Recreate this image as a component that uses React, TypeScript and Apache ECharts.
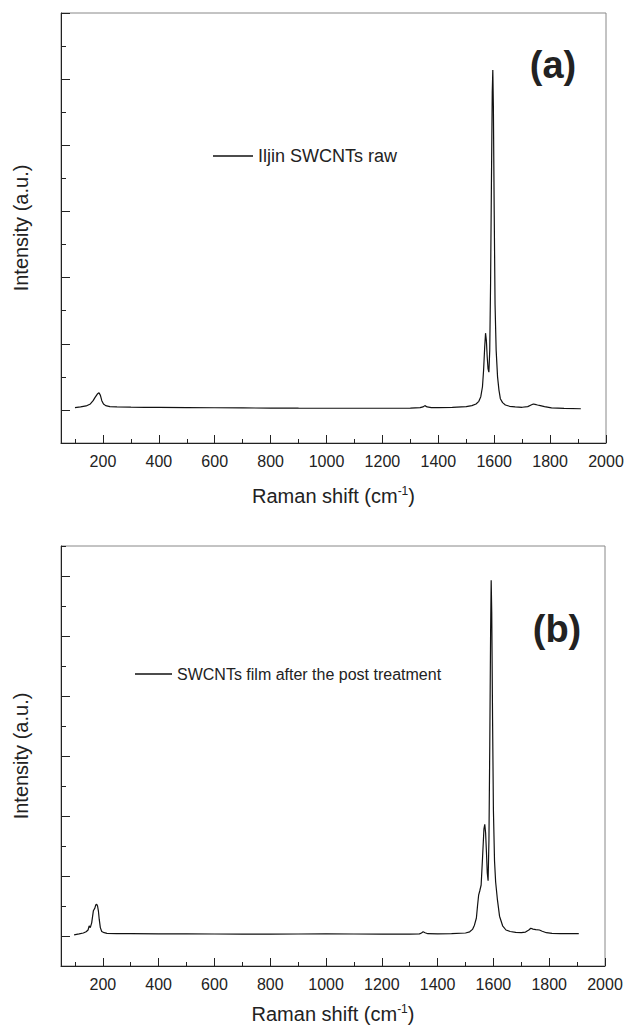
import React, { useEffect, useRef } from "react";
import * as echarts from "echarts";

const FONT = "'Liberation Sans', Arial, sans-serif";

// Panel (a): Iljin SWCNTs raw
const shiftA = [100, 120, 140, 155, 165, 172, 180, 186, 191, 196, 202, 210, 225, 250, 300, 350, 400, 500, 600, 700, 800, 900, 1000, 1100, 1200, 1300, 1335, 1345, 1352, 1360, 1375, 1400, 1450, 1500, 1520, 1535, 1545, 1552, 1558, 1562, 1566, 1569, 1572, 1575, 1578, 1581, 1584, 1587, 1590, 1593, 1595, 1597, 1600, 1603, 1607, 1612, 1617, 1622, 1630, 1640, 1655, 1675, 1700, 1720, 1732, 1740, 1746, 1755, 1765, 1780, 1805, 1850, 1910];
const intensityA = [0.035, 0.045, 0.06, 0.09, 0.14, 0.19, 0.24, 0.26, 0.22, 0.14, 0.09, 0.065, 0.05, 0.045, 0.042, 0.04, 0.04, 0.036, 0.033, 0.03, 0.028, 0.026, 0.025, 0.025, 0.025, 0.028, 0.035, 0.045, 0.065, 0.045, 0.035, 0.034, 0.04, 0.05, 0.065, 0.09, 0.13, 0.2, 0.35, 0.6, 0.95, 1.16, 1.05, 0.8, 0.62, 0.57, 0.9, 1.9, 3.4, 4.8, 5.14, 4.6, 3.0, 1.6, 0.9, 0.5, 0.3, 0.17, 0.11, 0.075, 0.055, 0.045, 0.04, 0.05, 0.075, 0.09, 0.085, 0.075, 0.065, 0.05, 0.03, 0.022, 0.018];

// Panel (b): SWCNTs film after the post treatment
const shiftB = [97, 115, 130, 140, 147, 151, 155, 160, 166, 171, 175, 178, 181, 184, 187, 191, 196, 205, 215, 250, 300, 400, 500, 600, 700, 800, 900, 1000, 1100, 1200, 1300, 1335, 1342, 1348, 1355, 1365, 1400, 1450, 1500, 1515, 1525, 1532, 1539, 1543, 1547, 1551, 1556, 1561, 1566, 1569, 1572, 1575, 1578, 1581, 1584, 1587, 1590, 1592, 1594, 1597, 1600, 1604, 1608, 1614, 1622, 1633, 1645, 1660, 1680, 1700, 1715, 1727, 1734, 1742, 1752, 1765, 1775, 1790, 1810, 1840, 1906];
const intensityB = [0.02, 0.035, 0.05, 0.07, 0.1, 0.17, 0.14, 0.22, 0.42, 0.46, 0.52, 0.53, 0.5, 0.42, 0.28, 0.14, 0.075, 0.055, 0.045, 0.04, 0.04, 0.035, 0.035, 0.033, 0.032, 0.032, 0.033, 0.035, 0.033, 0.03, 0.032, 0.035, 0.05, 0.07, 0.055, 0.038, 0.035, 0.04, 0.05, 0.07, 0.11, 0.18, 0.3, 0.5, 0.68, 0.75, 0.85, 1.3, 1.78, 1.86, 1.72, 1.4, 1.05, 0.92, 1.6, 3.2, 5.1, 5.93, 5.4, 3.6, 2.1, 1.25, 0.9, 0.62, 0.33, 0.17, 0.1, 0.075, 0.06, 0.055, 0.065, 0.1, 0.13, 0.115, 0.105, 0.1, 0.08, 0.055, 0.045, 0.04, 0.04];

// Axes
const xMajorTicks = [200, 400, 600, 800, 1000, 1200, 1400, 1600, 1800, 2000];
const xMinorTicks = [100, 300, 500, 700, 900, 1100, 1300, 1500, 1700, 1900];
const yMajorTicks = [0, 1, 2, 3, 4, 5, 6];
const yMinorTicksA = [-0.5, 0.5, 1.5, 2.5, 3.5, 4.5, 5.5];
const yMinorTicksB = [-0.5, 0.5, 1.5, 2.5, 3.5, 4.5, 5.5, 6.5];
const seriesNames = ["Iljin SWCNTs raw", "SWCNTs film after the post treatment"];
const panelLabels = ["(a)", "(b)"];
const xTitle = "Raman shift (cm{sup|-1})";
const yTitle = "Intensity (a.u.)";

const AXIS = "#222";

function xAxes(g: number, nameGap: number) {
  return [
    {
      type: "value", gridIndex: g, min: 50, max: 2000, position: "bottom",
      axisLine: { show: true, onZero: false, lineStyle: { color: AXIS, width: 1 } },
      axisTick: { show: true, inside: true, length: 8, customValues: xMajorTicks, lineStyle: { color: AXIS, width: 1 } },
      axisLabel: { show: true, customValues: xMajorTicks, margin: 10, fontSize: 16, color: AXIS, fontFamily: FONT, formatter: (v: number) => String(v) },
      splitLine: { show: false },
      name: xTitle, nameLocation: "middle", nameGap,
      nameTextStyle: {
        fontSize: 20, color: AXIS, fontFamily: FONT, lineHeight: 22,
        rich: { sup: { fontSize: 12, lineHeight: 12, verticalAlign: "top", color: AXIS, fontFamily: FONT } },
      },
    },
    {
      type: "value", gridIndex: g, min: 50, max: 2000, position: "bottom", offset: 0,
      axisLine: { show: false, onZero: false },
      axisTick: { show: true, inside: true, length: 4, customValues: xMinorTicks, lineStyle: { color: AXIS, width: 1 } },
      axisLabel: { show: false },
      splitLine: { show: false },
    },
  ];
}

function yAxes(g: number, max: number, minor: number[]) {
  return [
    {
      type: "value", gridIndex: g, min: -0.5, max, position: "left",
      axisLine: { show: true, onZero: false, lineStyle: { color: AXIS, width: 1 } },
      axisTick: { show: true, inside: true, length: 9, customValues: yMajorTicks, lineStyle: { color: AXIS, width: 1 } },
      axisLabel: { show: false },
      splitLine: { show: false },
      name: yTitle, nameLocation: "middle", nameGap: 30,
      nameTextStyle: { fontSize: 20, color: AXIS, fontFamily: FONT },
    },
    {
      type: "value", gridIndex: g, min: -0.5, max, position: "left", offset: 0,
      axisLine: { show: false, onZero: false },
      axisTick: { show: true, inside: true, length: 5, customValues: minor, lineStyle: { color: AXIS, width: 1 } },
      axisLabel: { show: false },
      splitLine: { show: false },
    },
  ];
}

export default function App() {
  const ref = useRef<HTMLDivElement>(null);
  useEffect(() => {
    if (!ref.current) return;
    const chart = echarts.init(ref.current, null, { renderer: "svg" });
    const lineStyle = { color: "#111", width: 1.2 };
    chart.setOption({
      animation: false,
      backgroundColor: "#fff",
      textStyle: { fontFamily: FONT },
      grid: [
        { left: 61, top: 13, width: 545, height: 430, show: true, borderColor: "#888", borderWidth: 1, outerBoundsMode: "none" },
        { left: 61, top: 546, width: 544, height: 420, show: true, borderColor: "#888", borderWidth: 1, outerBoundsMode: "none" },
      ],
      xAxis: [...xAxes(0, 42), ...xAxes(1, 37)],
      yAxis: [...yAxes(0, 6, yMinorTicksA), ...yAxes(1, 6.5, yMinorTicksB)],
      legend: [
        {
          data: [{ name: seriesNames[0], icon: "rect" }], left: 213, top: 147, padding: 0,
          itemWidth: 40, itemHeight: 1.3,
          textStyle: { fontSize: 18, color: AXIS, fontFamily: FONT },
        },
        {
          data: [{ name: seriesNames[1], icon: "rect" }], left: 135, top: 666, padding: 0,
          itemWidth: 37, itemHeight: 1.3,
          textStyle: { fontSize: 16, color: AXIS, fontFamily: FONT },
        },
      ],
      graphic: [
        { type: "text", x: 553, y: 65, style: { text: panelLabels[0], font: `bold 38px ${FONT}`, fill: "#222", textAlign: "center", textVerticalAlign: "middle" } },
        { type: "text", x: 557, y: 629, style: { text: panelLabels[1], font: `bold 38px ${FONT}`, fill: "#222", textAlign: "center", textVerticalAlign: "middle" } },
      ],
      series: [
        {
          type: "line", name: seriesNames[0], xAxisIndex: 0, yAxisIndex: 0,
          data: shiftA.map((x, i) => [x, intensityA[i]]),
          symbol: "none", showSymbol: false, lineStyle, itemStyle: { color: "#111" },
        },
        {
          type: "line", name: seriesNames[1], xAxisIndex: 2, yAxisIndex: 2,
          data: shiftB.map((x, i) => [x, intensityB[i]]),
          symbol: "none", showSymbol: false, lineStyle, itemStyle: { color: "#111" },
        },
      ],
    });
    return () => chart.dispose();
  }, []);
  return <div ref={ref} style={{ position: "absolute", left: 0, top: 0, width: 625, height: 1026 }} />;
}
